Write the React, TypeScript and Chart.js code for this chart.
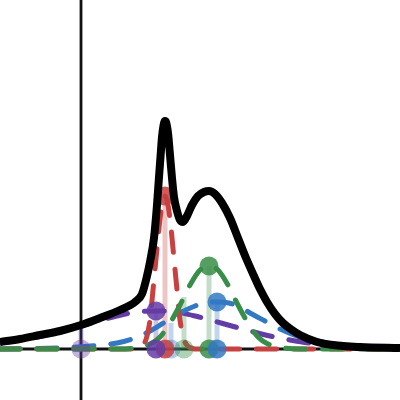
import { useEffect, useRef } from "react";
import { Chart, registerables } from "chart.js";

Chart.register(...registerables);

// axis ranges (data units)
const X_MIN = -8.1;
const X_MAX = 31.9;
const Y_MIN = -5.1;
const Y_MAX = 34.9;

// total fitted curve
const totalCurve: [number, number][] = [
  [-8.1, 0.7], [-6.1, 1.0], [-4.1, 1.4], [-2.1, 1.8], [0, 2.4], [1.9, 3.1],
  [3.9, 3.9], [5.4, 4.7], [6.1, 5.5], [6.6, 7.3], [6.9, 8.7], [7.3, 11.1],
  [7.6, 14.4], [7.8, 17.2], [8.0, 19.9], [8.1, 21.2], [8.3, 22.6], [8.4, 22.8],
  [8.5, 22.7], [8.7, 21.6], [8.9, 19.4], [9.1, 17.1], [9.3, 15.2], [9.6, 13.8],
  [9.9, 12.9], [10.2, 12.7], [10.6, 13.3], [11.1, 14.4], [11.7, 15.3],
  [12.3, 15.7], [12.8, 15.8], [13.4, 15.5], [14.1, 14.6], [14.9, 13.1],
  [15.7, 11.1], [16.5, 9.1], [17.3, 7.3], [17.9, 6.0], [18.6, 4.7], [19.4, 3.5],
  [20.2, 2.6], [21.1, 1.9], [21.9, 1.4], [23.6, 0.7], [25.2, 0.4], [27.9, 0.2],
  [31.9, 0.1],
];

// component curves
const redCurve: [number, number][] = [
  [-8.1, 0], [5.4, 0], [5.9, 0.15], [6.3, 0.5], [6.6, 1.3], [6.9, 2.9],
  [7.2, 5.9], [7.5, 9.0], [7.8, 12.1], [8.1, 14.4], [8.4, 15.3], [8.7, 14.4],
  [9.0, 12.1], [9.3, 9.0], [9.6, 5.9], [9.9, 2.9], [10.2, 1.3], [10.5, 0.5],
  [10.9, 0.15], [11.4, 0], [31.9, 0],
];
const greenCurve: [number, number][] = [
  [-8.1, 0], [3.9, 0], [5.9, 0.2], [6.9, 0.5], [7.9, 1.2], [8.9, 2.6],
  [9.9, 4.4], [10.9, 6.4], [11.9, 7.9], [12.8, 8.3], [13.7, 7.9], [14.7, 6.4],
  [15.7, 4.4], [16.7, 2.6], [17.7, 1.2], [18.7, 0.5], [19.7, 0.2], [21.9, 0],
  [31.9, 0],
];
const blueCurve: [number, number][] = [
  [-8.1, 0], [-2.1, 0.1], [0.9, 0.3], [3.6, 0.6], [5.4, 1.1], [6.9, 1.8],
  [8.4, 2.7], [9.9, 3.6], [11.4, 4.3], [12.4, 4.6], [13.6, 4.7], [14.8, 4.6],
  [15.9, 4.2], [16.9, 3.6], [18.4, 2.8], [19.9, 2.0], [21.9, 1.2], [23.7, 0.8],
  [25.9, 0.4], [28.9, 0.2], [31.9, 0.1],
];
const purpleCurve: [number, number][] = [
  [-8.1, 0.6], [-5.9, 0.9], [-3.9, 1.3], [-1.9, 1.8], [1.0, 2.6], [3.2, 3.2],
  [5.5, 3.7], [7.5, 3.8], [9.5, 3.7], [11.8, 3.2], [14.0, 2.6], [16.9, 1.8],
  [18.9, 1.3], [20.9, 0.9], [23.5, 0.5], [27.5, 0.2], [31.9, 0.1],
];

// peaks: fitted (x, height) and initial guesses (x, height)
const peakNames = ["red", "purple", "green", "blue"];
const peakX = [8.4, 7.5, 12.8, 13.6];
const peakY = [15.3, 3.8, 8.3, 4.7];
const guessNames = ["purple", "blue", "green"];
const guessX = [0.0, 9.0, 10.3];
const guessY = [2.4, 2.6, 5.2];

const COLORS: Record<string, [number, number, number]> = {
  red: [200, 64, 64],
  green: [56, 142, 72],
  blue: [50, 120, 195],
  purple: [100, 60, 165],
};
const rgba = (name: string, a: number) => {
  const [r, g, b] = COLORS[name];
  return `rgba(${r},${g},${b},${a})`;
};
const pts = (arr: [number, number][]) => arr.map(([x, y]) => ({ x, y }));

export default function App() {
  const ref = useRef<HTMLCanvasElement | null>(null);

  useEffect(() => {
    if (!ref.current) return;
    const datasets: any[] = [];

    // total curve on top
    datasets.push({
      data: pts(totalCurve),
      borderColor: "#000",
      borderWidth: 8,
      pointRadius: 0,
      cubicInterpolationMode: "monotone",
      borderJoinStyle: "round",
      order: 0,
    });

    // markers
    datasets.push({
      data: peakX.map((x, i) => ({ x, y: peakY[i] })),
      showLine: false,
      pointRadius: 9.5,
      pointBorderWidth: 0,
      pointBackgroundColor: peakNames.map((n) => rgba(n, 0.85)),
      order: 1,
    });
    datasets.push({
      data: peakX.map((x) => ({ x, y: 0 })),
      showLine: false,
      pointRadius: 9.5,
      pointBorderWidth: 0,
      pointBackgroundColor: peakNames.map((n) => rgba(n, 0.85)),
      order: 1,
    });
    datasets.push({
      data: guessX.map((x) => ({ x, y: 0 })),
      showLine: false,
      pointRadius: 9.5,
      pointBorderWidth: 0,
      pointBackgroundColor: guessNames.map((n) => rgba(n, 0.4)),
      order: 1,
    });

    // dashed components (green above red)
    const comps: [string, [number, number][], number][] = [
      ["green", greenCurve, 2],
      ["red", redCurve, 3],
      ["blue", blueCurve, 4],
      ["purple", purpleCurve, 5],
    ];
    comps.forEach(([n, c, o]) => {
      datasets.push({
        data: pts(c),
        borderColor: rgba(n, 1),
        borderWidth: 5,
        borderDash: [20, 17],
        borderCapStyle: "round",
        borderJoinStyle: "round",
        pointRadius: 0,
        cubicInterpolationMode: "monotone",
        order: o,
      });
    });

    // stems
    peakX.forEach((x, i) => {
      datasets.push({
        data: [{ x, y: 0 }, { x, y: peakY[i] }],
        borderColor: rgba(peakNames[i], 0.3),
        borderWidth: 5,
        pointRadius: 0,
        order: 7,
      });
    });
    guessX.forEach((x, i) => {
      datasets.push({
        data: [{ x, y: 0 }, { x, y: guessY[i] }],
        borderColor: rgba(guessNames[i], 0.3),
        borderWidth: 5,
        pointRadius: 0,
        order: 7,
      });
    });

    // axes lines
    datasets.push({
      data: [{ x: X_MIN, y: 0 }, { x: X_MAX, y: 0 }],
      borderColor: "#111",
      borderWidth: 2.8,
      pointRadius: 0,
      order: 9,
    });
    datasets.push({
      data: [{ x: 0, y: Y_MIN }, { x: 0, y: Y_MAX }],
      borderColor: "#111",
      borderWidth: 2.8,
      pointRadius: 0,
      order: 9,
    });

    const chart = new Chart(ref.current, {
      type: "line",
      data: { datasets },
      options: {
        responsive: false,
        animation: false,
        events: [],
        layout: { padding: 0, autoPadding: false },
        plugins: { legend: { display: false }, tooltip: { enabled: false } },
        scales: {
          x: { type: "linear", min: X_MIN, max: X_MAX, display: false },
          y: { type: "linear", min: Y_MIN, max: Y_MAX, display: false },
        },
      },
    });
    return () => chart.destroy();
  }, []);

  return (
    <div style={{ position: "fixed", left: 0, top: 0, width: 400, height: 400, background: "#fff" }}>
      <canvas ref={ref} width={400} height={400} style={{ display: "block" }} />
    </div>
  );
}
